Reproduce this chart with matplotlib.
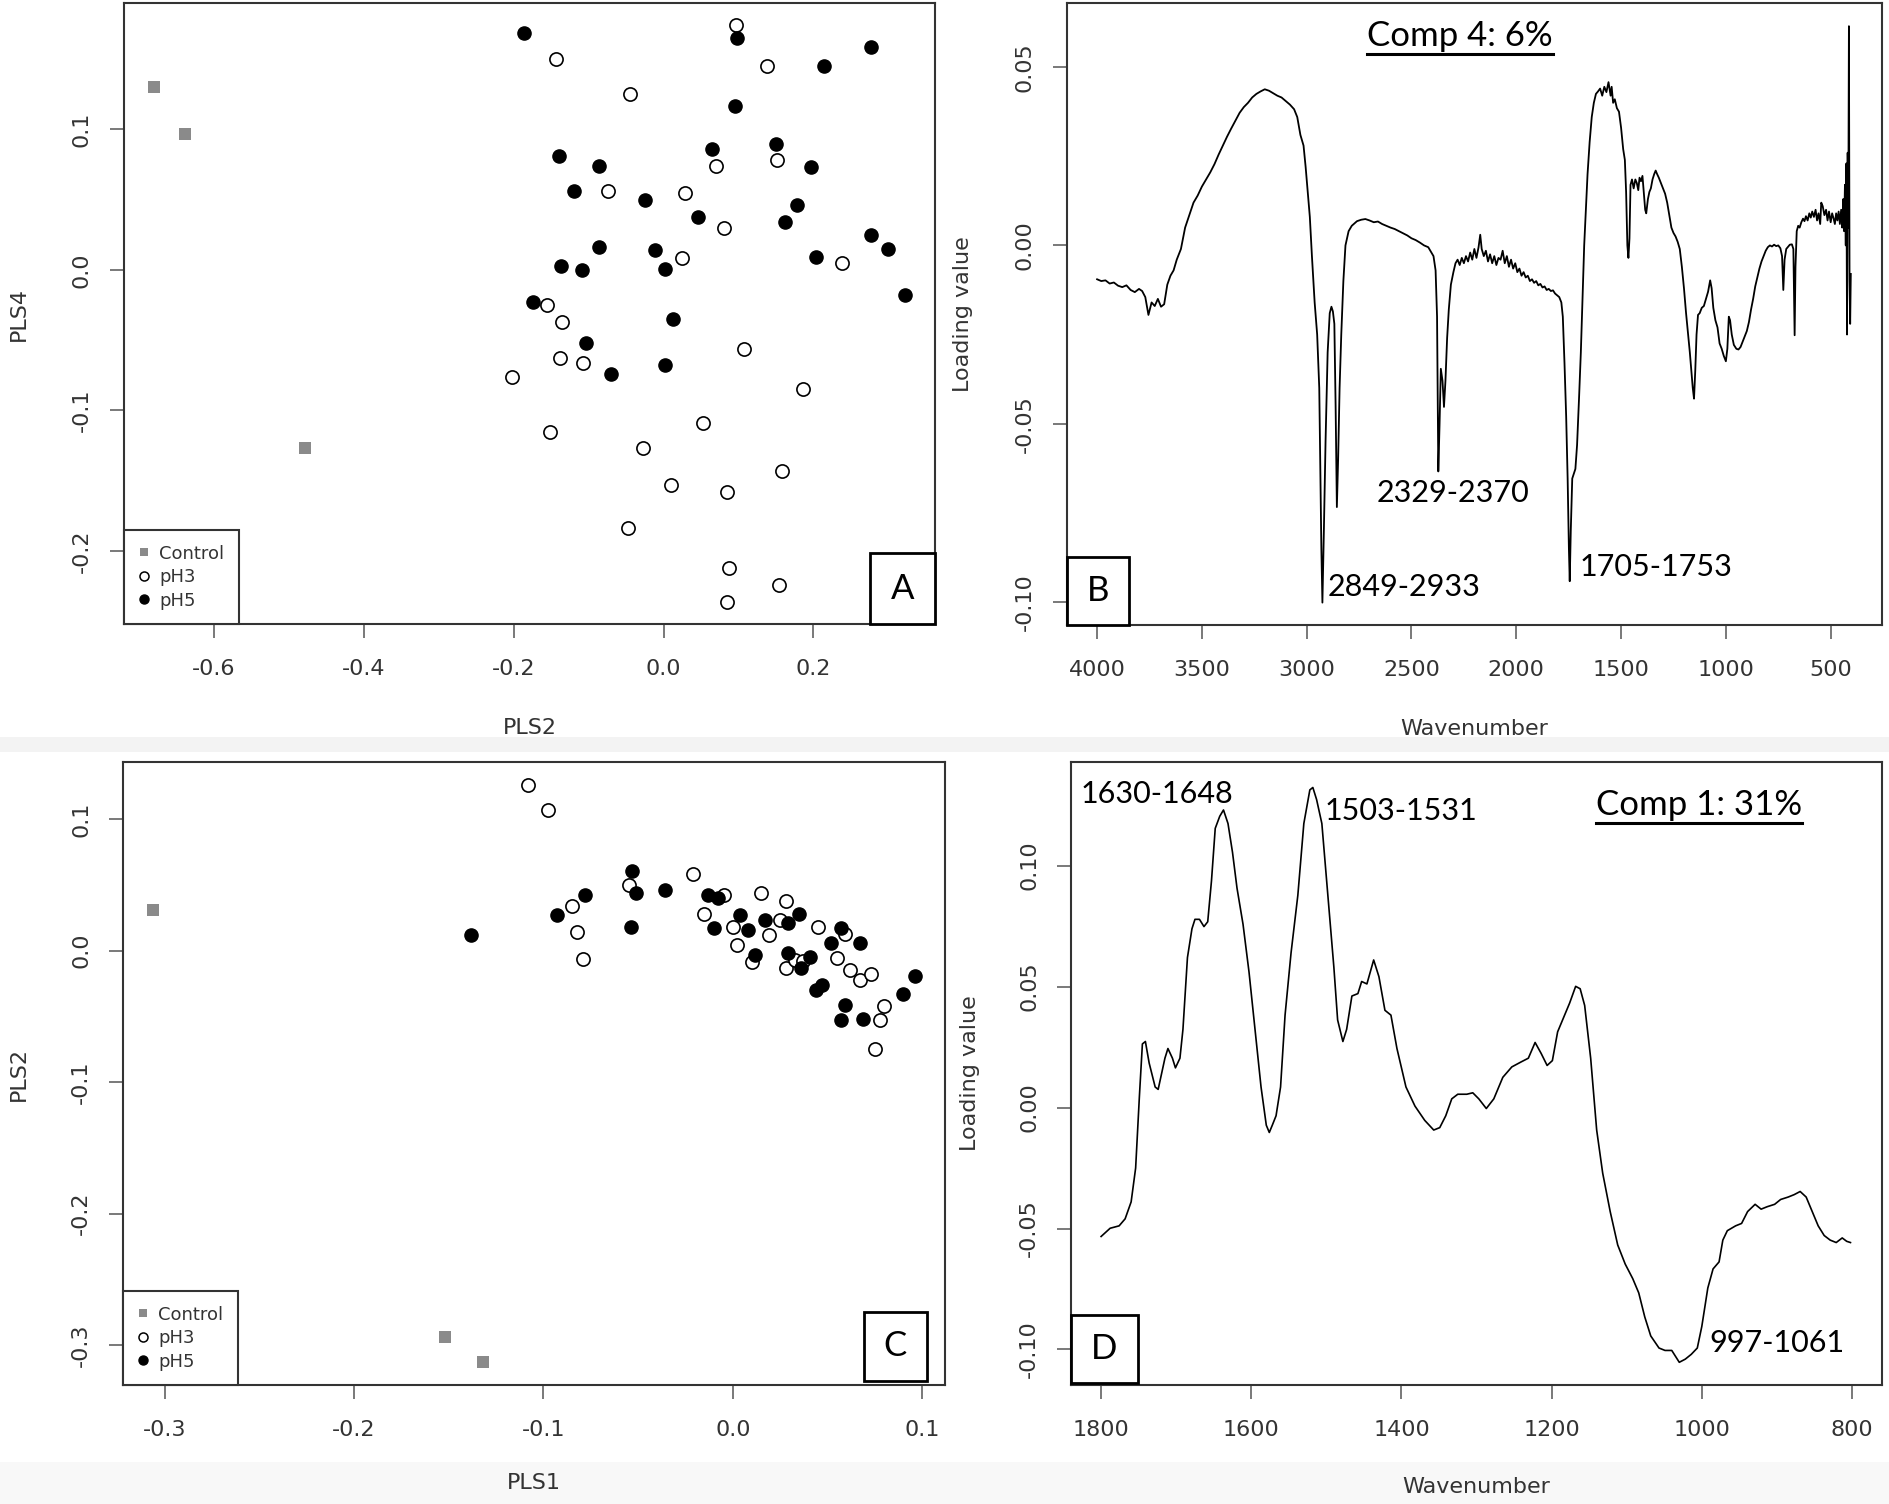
import matplotlib.pyplot as plt
import numpy as np
from matplotlib.patches import Rectangle
from matplotlib.lines import Line2D

# ---- panel A: PLS2 vs PLS4 scores ----
a_ctrl_x = [-0.680, -0.639, -0.479]
a_ctrl_y = [0.130, 0.097, -0.127]
a_ph3_x = [0.096, -0.143, 0.138, -0.045, 0.070, 0.151, -0.074, 0.028, 0.081, 0.024,
           0.238, -0.155, -0.135, 0.108, -0.138, -0.108, -0.202, 0.186, 0.053, -0.151,
           -0.027, 0.158, 0.010, 0.085, -0.048, 0.087, 0.154, 0.084]
a_ph3_y = [0.174, 0.150, 0.145, 0.125, 0.074, 0.078, 0.056, 0.055, 0.030, 0.0085,
           0.005, -0.025, -0.037, -0.056, -0.063, -0.066, -0.076, -0.085, -0.109, -0.115,
           -0.127, -0.143, -0.153, -0.158, -0.184, -0.212, -0.224, -0.236]
a_ph5_x = [-0.186, 0.098, 0.277, 0.214, 0.095, 0.150, -0.140, 0.064, -0.086, 0.197,
           -0.120, -0.025, 0.178, 0.046, 0.162, 0.277, 0.299, -0.086, -0.011, -0.137,
           -0.109, 0.002, 0.204, 0.322, -0.174, 0.013, -0.104, -0.070, 0.002]
a_ph5_y = [0.169, 0.165, 0.159, 0.145, 0.117, 0.090, 0.081, 0.086, 0.074, 0.073,
           0.056, 0.050, 0.046, 0.038, 0.034, 0.025, 0.015, 0.016, 0.014, 0.003,
           0.000, 0.001, 0.009, -0.018, -0.023, -0.035, -0.052, -0.074, -0.068]

# ---- panel C: PLS1 vs PLS2 scores ----
c_ctrl_x = [-0.306, -0.152, -0.132]
c_ctrl_y = [0.031, -0.294, -0.313]
c_ph3_x = [-0.108, -0.0975, -0.055, -0.085, -0.082, -0.079, -0.021, -0.015, -0.0045, 0.000,
           0.002, 0.010, 0.015, 0.019, 0.025, 0.028, 0.028, 0.033, 0.037, 0.045,
           0.055, 0.059, 0.062, 0.067, 0.073, 0.080, 0.078, 0.075]
c_ph3_y = [0.126, 0.107, 0.050, 0.034, 0.014, -0.0066, 0.058, 0.028, 0.042, 0.018,
           0.004, -0.0084, 0.044, 0.012, 0.023, 0.038, -0.013, -0.007, -0.008, 0.018,
           -0.0055, 0.013, -0.015, -0.022, -0.018, -0.042, -0.053, -0.075]
c_ph5_x = [-0.138, -0.093, -0.078, -0.053, -0.051, -0.054, -0.036, -0.013, -0.008, -0.010,
           0.004, 0.008, 0.012, 0.017, 0.029, 0.035, 0.029, 0.036, 0.041, 0.044,
           0.047, 0.052, 0.057, 0.059, 0.057, 0.067, 0.069, 0.090, 0.096]
c_ph5_y = [0.012, 0.027, 0.042, 0.061, 0.044, 0.018, 0.046, 0.042, 0.040, 0.017,
           0.027, 0.016, -0.003, 0.023, 0.021, 0.028, -0.002, -0.013, -0.005, -0.030,
           -0.026, 0.006, 0.017, -0.041, -0.053, 0.006, -0.052, -0.033, -0.019]

# ---- panel B: loadings comp 4 (full spectrum) ----
b_wn = [4000, 3980, 3960, 3940, 3920, 3900, 3880, 3860, 3840, 3820, 3800, 3785, 3770, 3755,
        3740, 3725, 3710, 3695, 3680, 3665, 3650, 3635, 3620, 3600, 3580, 3560, 3540, 3520,
        3500, 3480, 3460, 3440, 3420, 3400, 3380, 3360, 3340, 3320, 3300, 3280, 3260, 3240,
        3220, 3200, 3180, 3160, 3140, 3120, 3100, 3080, 3060, 3045, 3030, 3015, 3005, 2995,
        2985, 2975, 2962, 2950, 2940, 2930, 2925, 2918, 2910, 2900, 2890, 2882, 2875, 2868,
        2862, 2856, 2850, 2843, 2835, 2825, 2815, 2800, 2785, 2760, 2740, 2720, 2700, 2680,
        2660, 2640, 2620, 2600, 2580, 2560, 2540, 2520, 2500, 2480, 2460, 2440, 2420, 2405,
        2395, 2385, 2378, 2372, 2366, 2360, 2352, 2345, 2338, 2330, 2322, 2312, 2300, 2290,
        2280, 2270, 2260, 2250, 2240, 2230, 2220, 2210, 2200, 2190, 2180, 2172, 2165, 2155,
        2145, 2135, 2125, 2115, 2105, 2095, 2085, 2075, 2065, 2055, 2045, 2035, 2025, 2015,
        2005, 1995, 1985, 1975, 1965, 1955, 1945, 1935, 1925, 1915, 1905, 1895, 1885, 1875,
        1865, 1855, 1845, 1835, 1825, 1815, 1805, 1795, 1785, 1778, 1770, 1762, 1755, 1749,
        1745, 1740, 1733, 1725, 1718, 1710, 1700, 1692, 1684, 1676, 1668, 1660, 1650, 1640,
        1630, 1620, 1610, 1600, 1590, 1580, 1570, 1560, 1550, 1545, 1538, 1530, 1520, 1510,
        1500, 1490, 1482, 1476, 1470, 1465, 1460, 1455, 1448, 1440, 1432, 1425, 1418, 1412,
        1405, 1398, 1392, 1385, 1380, 1372, 1365, 1358, 1350, 1342, 1335, 1328, 1320, 1310,
        1300, 1290, 1280, 1270, 1260, 1250, 1240, 1230, 1220, 1210, 1200, 1190, 1180, 1172,
        1165, 1158, 1152, 1146, 1140, 1133, 1125, 1115, 1105, 1095, 1085, 1075, 1068, 1060,
        1050, 1040, 1030, 1020, 1010, 1000, 993, 986, 980, 972, 962, 950, 940, 930,
        920, 910, 900, 890, 880, 870, 860, 850, 840, 830, 820, 810, 800, 790,
        780, 770, 760, 750, 740, 732, 726, 720, 712, 705, 695, 685, 678, 672,
        668, 662, 655, 648, 640, 632, 625, 618, 610, 602, 595, 588, 580, 572,
        565, 558, 550, 545, 538, 530, 522, 515, 508, 500, 493, 486, 480, 474,
        468, 462, 456, 450, 445, 440, 436, 432, 428, 425, 422, 419, 416, 413,
        410, 407, 404]
b_val = [-0.0095, -0.0100, -0.0098, -0.0107, -0.0104, -0.0113, -0.0117, -0.0112, -0.0125, -0.0131,
         -0.0122, -0.0128, -0.0145, -0.0195, -0.0160, -0.0170, -0.0150, -0.0172, -0.0165, -0.0110,
         -0.0085, -0.0070, -0.0040, -0.0010, 0.0050, 0.0085, 0.0120, 0.0140, 0.0165, 0.0185,
         0.0205, 0.0228, 0.0255, 0.0280, 0.0305, 0.0328, 0.0350, 0.0372, 0.0388, 0.0400,
         0.0415, 0.0425, 0.0432, 0.0438, 0.0434, 0.0427, 0.0420, 0.0415, 0.0405, 0.0395,
         0.0382, 0.0360, 0.0310, 0.0280, 0.0220, 0.0150, 0.0080, -0.0030, -0.0160, -0.0250,
         -0.0400, -0.0850, -0.1002, -0.0800, -0.0550, -0.0300, -0.0190, -0.0172, -0.0185, -0.0220,
         -0.0450, -0.0734, -0.0600, -0.0400, -0.0250, -0.0100, 0.0000, 0.0040, 0.0055, 0.0068,
         0.0072, 0.0074, 0.0070, 0.0065, 0.0067, 0.0060, 0.0055, 0.0050, 0.0046, 0.0040,
         0.0034, 0.0028, 0.0020, 0.0015, 0.0008, 0.0000, -0.0005, -0.0020, -0.0030, -0.0070,
         -0.0200, -0.0634, -0.0500, -0.0346, -0.0380, -0.0453, -0.0380, -0.0260, -0.0180, -0.0110,
         -0.0075, -0.0050, -0.0040, -0.0055, -0.0035, -0.0050, -0.0030, -0.0045, -0.0020, -0.0040,
         -0.0010, -0.0035, -0.0005, 0.0030, -0.0010, -0.0030, -0.0015, -0.0045, -0.0025, -0.0050,
         -0.0030, -0.0055, -0.0035, -0.0040, -0.0015, -0.0050, -0.0030, -0.0060, -0.0040, -0.0065,
         -0.0050, -0.0075, -0.0065, -0.0085, -0.0075, -0.0090, -0.0085, -0.0100, -0.0095, -0.0105,
         -0.0100, -0.0112, -0.0108, -0.0118, -0.0115, -0.0125, -0.0122, -0.0128, -0.0126, -0.0135,
         -0.0140, -0.0145, -0.0160, -0.0200, -0.0330, -0.0480, -0.0654, -0.0850, -0.0942, -0.0800,
         -0.0654, -0.0640, -0.0627, -0.0560, -0.0420, -0.0300, -0.0150, 0.0000, 0.0100, 0.0200,
         0.0290, 0.0360, 0.0400, 0.0425, 0.0432, 0.0440, 0.0420, 0.0445, 0.0430, 0.0458,
         0.0420, 0.0445, 0.0400, 0.0410, 0.0385, 0.0375, 0.0330, 0.0270, 0.0240, 0.0150,
         0.0000, -0.0035, 0.0020, 0.0170, 0.0185, 0.0160, 0.0185, 0.0175, 0.0155, 0.0190,
         0.0180, 0.0195, 0.0150, 0.0100, 0.0090, 0.0130, 0.0150, 0.0160, 0.0185, 0.0200,
         0.0210, 0.0200, 0.0190, 0.0175, 0.0160, 0.0145, 0.0120, 0.0085, 0.0050, 0.0035,
         0.0025, 0.0010, -0.0010, -0.0060, -0.0120, -0.0190, -0.0250, -0.0300, -0.0350, -0.0400,
         -0.0430, -0.0350, -0.0250, -0.0195, -0.0190, -0.0175, -0.0170, -0.0150, -0.0130, -0.0098,
         -0.0120, -0.0175, -0.0210, -0.0230, -0.0275, -0.0290, -0.0310, -0.0325, -0.0290, -0.0200,
         -0.0210, -0.0250, -0.0279, -0.0290, -0.0292, -0.0285, -0.0270, -0.0255, -0.0240, -0.0215,
         -0.0180, -0.0150, -0.0115, -0.0090, -0.0065, -0.0045, -0.0030, -0.0015, -0.0005, 0.0000,
         -0.0003, 0.0002, -0.0002, 0.0000, -0.0008, -0.0030, -0.0125, -0.0040, -0.0010, -0.0005,
         0.0002, 0.0003, -0.0010, -0.0252, -0.0060, 0.0040, 0.0055, 0.0050, 0.0065, 0.0075,
         0.0068, 0.0082, 0.0070, 0.0090, 0.0078, 0.0095, 0.0080, 0.0100, 0.0070, 0.0090,
         0.0060, 0.0120, 0.0110, 0.0085, 0.0100, 0.0070, 0.0095, 0.0065, 0.0090, 0.0075,
         0.0060, 0.0090, 0.0070, 0.0095, 0.0060, 0.0100, 0.0050, 0.0130, 0.0040, 0.0170,
         0.0000, 0.0230, -0.0250, 0.0260, 0.0050, 0.0615, -0.0100, -0.0220, -0.0080]

# ---- panel D: loadings comp 1 (1800-800) ----
d_wn = [1800, 1788, 1776, 1768, 1760, 1754, 1749, 1745, 1741, 1736, 1728, 1724, 1715, 1711,
        1705, 1701, 1695, 1691, 1685, 1679, 1675, 1669, 1663, 1658, 1653, 1648, 1642, 1637,
        1631, 1625, 1619, 1611, 1603, 1595, 1587, 1580, 1576, 1572, 1567, 1561, 1555, 1547,
        1538, 1530, 1522, 1518, 1513, 1506, 1498, 1490, 1485, 1478, 1473, 1466, 1458, 1453,
        1446, 1437, 1430, 1422, 1414, 1406, 1394, 1382, 1369, 1357, 1349, 1341, 1333, 1325,
        1313, 1305, 1297, 1287, 1277, 1265, 1253, 1241, 1231, 1222, 1214, 1206, 1199, 1192,
        1184, 1176, 1168, 1162, 1156, 1148, 1140, 1132, 1122, 1112, 1102, 1092, 1084, 1076,
        1068, 1057, 1049, 1040, 1030, 1022, 1014, 1006, 1000, 992, 985, 977, 972, 966,
        955, 947, 939, 929, 921, 913, 903, 895, 885, 877, 869, 861, 853, 845,
        837, 829, 821, 813, 807, 802]
d_val = [-0.0533, -0.0499, -0.0489, -0.0460, -0.0390, -0.0250, 0.0046, 0.0263, 0.0273, 0.0184,
         0.0085, 0.0075, 0.0204, 0.0244, 0.0204, 0.0164, 0.0204, 0.0323, 0.0620, 0.0739,
         0.0778, 0.0778, 0.0748, 0.0768, 0.0937, 0.1154, 0.1204, 0.1230, 0.1174, 0.1055,
         0.0907, 0.0758, 0.0560, 0.0323, 0.0085, -0.0073, -0.0103, -0.0073, -0.0034, 0.0085,
         0.0382, 0.0640, 0.0877, 0.1174, 0.1313, 0.1323, 0.1273, 0.1174, 0.0877, 0.0580,
         0.0362, 0.0273, 0.0323, 0.0461, 0.0471, 0.0521, 0.0511, 0.0610, 0.0541, 0.0402,
         0.0382, 0.0244, 0.0085, 0.0006, -0.0053, -0.0093, -0.0083, -0.0034, 0.0036, 0.0055,
         0.0055, 0.0061, 0.0036, -0.0004, 0.0036, 0.0125, 0.0168, 0.0188, 0.0204, 0.0269,
         0.0224, 0.0174, 0.0194, 0.0313, 0.0372, 0.0432, 0.0501, 0.0491, 0.0422, 0.0204,
         -0.0093, -0.0271, -0.0430, -0.0568, -0.0647, -0.0707, -0.0766, -0.0865, -0.0944, -0.0994,
         -0.1004, -0.1004, -0.1053, -0.1040, -0.1020, -0.0994, -0.0905, -0.0746, -0.0667, -0.0638,
         -0.0548, -0.0509, -0.0489, -0.0479, -0.0430, -0.0400, -0.0420, -0.0410, -0.0400, -0.0380,
         -0.0370, -0.0360, -0.0347, -0.0370, -0.0430, -0.0489, -0.0529, -0.0548, -0.0558, -0.0539,
         -0.0553, -0.0558]

groups = ["Control", "pH3", "pH5"]

AX_FONT = "DejaVu Sans"
ANN_FONT = "Lato"
FRAME = "#333333"
GRAY = "#8a8a8a"

fig = plt.figure(figsize=(18.89, 15.04), dpi=100)
fig.patch.set_facecolor("white")
# faint bands left over from the composite image
fig.add_artist(Rectangle((0, 0.500), 1, 0.010, transform=fig.transFigure,
                         facecolor="#f3f3f3", edgecolor="none", zorder=0))
fig.add_artist(Rectangle((0, 0.0), 1, 0.028, transform=fig.transFigure,
                         facecolor="#f8f8f8", edgecolor="none", zorder=0))

axA = fig.add_axes([0.0656, 0.5851, 0.4293, 0.4129])
axB = fig.add_axes([0.5648, 0.5844, 0.4314, 0.4136])
axC = fig.add_axes([0.0651, 0.0791, 0.4351, 0.4142])
axD = fig.add_axes([0.5670, 0.0791, 0.4293, 0.4142])


def style(ax, xlabel, ylabel, xticks, xlabels, yticks, ylabels, xl_y, yl_x):
    for s in ax.spines.values():
        s.set_color(FRAME)
        s.set_linewidth(1.5)
    ax.set_xticks(xticks)
    ax.set_xticklabels(xlabels, fontsize=16, family=AX_FONT, color="#333333")
    ax.set_yticks(yticks)
    ax.set_yticklabels(ylabels, fontsize=16, family=AX_FONT, color="#333333",
                       rotation=90, va="center")
    ax.tick_params(axis="x", length=10, width=1.1, color="#555555", pad=15)
    ax.tick_params(axis="y", length=10, width=1.1, color="#555555", pad=13)
    ax.set_xlabel(xlabel, fontsize=16, family=AX_FONT, color="#333333")
    ax.set_ylabel(ylabel, fontsize=16, family=AX_FONT, color="#333333")
    ax.xaxis.set_label_coords(0.5, xl_y)
    ax.yaxis.set_label_coords(yl_x, 0.5)


def letter_box(ax, letter, x0, y0, w, h):
    ax.add_patch(Rectangle((x0, y0), w, h, transform=ax.transAxes, facecolor="white",
                           edgecolor="black", linewidth=2.0, zorder=10, clip_on=False))
    ax.text(x0 + w / 2, y0 + h / 2, letter, transform=ax.transAxes, ha="center", va="center",
            fontsize=25, family=ANN_FONT, zorder=11)


def scores(ax, cx, cy, p3x, p3y, p5x, p5y):
    ax.scatter(cx, cy, marker="s", s=70, color=GRAY, linewidths=0, zorder=3)
    ax.scatter(p3x, p3y, marker="o", s=90, facecolors="white", edgecolors="black",
               linewidths=1.2, zorder=3)
    ax.scatter(p5x, p5y, marker="o", s=90, color="black", zorder=3)
    handles = [Line2D([], [], ls="none", marker="s", ms=6, color=GRAY, mew=0),
               Line2D([], [], ls="none", marker="o", ms=6.5, mfc="white", mec="black", mew=1.1),
               Line2D([], [], ls="none", marker="o", ms=6.5, color="black")]
    leg = ax.legend(handles, groups, loc="lower left", bbox_to_anchor=(0, 0),
                    borderaxespad=0, fancybox=False, framealpha=1, edgecolor=FRAME,
                    prop={"family": AX_FONT, "size": 13}, handlelength=0.6,
                    handletextpad=0.55, labelspacing=0.3, borderpad=0.8)
    leg.get_frame().set_linewidth(1.5)
    for t in leg.get_texts():
        t.set_color("#333333")


# panel A
scores(axA, a_ctrl_x, a_ctrl_y, a_ph3_x, a_ph3_y, a_ph5_x, a_ph5_y)
axA.set_xlim(-0.72, 0.362)
axA.set_ylim(-0.252, 0.19)
style(axA, "PLS2", "PLS4", [-0.6, -0.4, -0.2, 0.0, 0.2], ["-0.6", "-0.4", "-0.2", "0.0", "0.2"],
      [-0.2, -0.1, 0.0, 0.1], ["-0.2", "-0.1", "0.0", "0.1"], -0.151, -0.117)
letter_box(axA, "A", 0.920, 0.0, 0.080, 0.114)

# panel C
scores(axC, c_ctrl_x, c_ctrl_y, c_ph3_x, c_ph3_y, c_ph5_x, c_ph5_y)
axC.set_xlim(-0.322, 0.112)
axC.set_ylim(-0.3305, 0.1435)
style(axC, "PLS1", "PLS2", [-0.3, -0.2, -0.1, 0.0, 0.1], ["-0.3", "-0.2", "-0.1", "0.0", "0.1"],
      [-0.3, -0.2, -0.1, 0.0, 0.1], ["-0.3", "-0.2", "-0.1", "0.0", "0.1"], -0.141, -0.114)
letter_box(axC, "C", 0.901, 0.006, 0.077, 0.112)

# panel B
axB.plot(b_wn, b_val, color="black", lw=1.3)
axB.set_xlim(4144, 256)
axB.set_ylim(-0.1065, 0.068)
style(axB, "Wavenumber", "Loading value", [4000, 3500, 3000, 2500, 2000, 1500, 1000, 500],
      ["4000", "3500", "3000", "2500", "2000", "1500", "1000", "500"],
      [-0.10, -0.05, 0.0, 0.05], ["-0.10", "-0.05", "0.00", "0.05"], -0.151, -0.115)
letter_box(axB, "B", 0.0, 0.0, 0.076, 0.109)
compB = axB.text(2269, 0.0559, "Comp 4: 6%", ha="center", va="baseline", fontsize=25,
                 family=ANN_FONT)
axB.text(2898, -0.0959, "2849-2933", ha="left", va="center", fontsize=22, family=ANN_FONT)
axB.text(2666, -0.0694, "2329-2370", ha="left", va="center", fontsize=22, family=ANN_FONT)
axB.text(1700, -0.0902, "1705-1753", ha="left", va="center", fontsize=22, family=ANN_FONT)

# panel D
axD.plot(d_wn, d_val, color="black", lw=1.2)
axD.set_xlim(1840, 760)
axD.set_ylim(-0.1147, 0.1428)
style(axD, "Wavenumber", "Loading value", [1800, 1600, 1400, 1200, 1000, 800],
      ["1800", "1600", "1400", "1200", "1000", "800"],
      [-0.10, -0.05, 0.0, 0.05, 0.10], ["-0.10", "-0.05", "0.00", "0.05", "0.10"],
      -0.147, -0.112)
letter_box(axD, "D", 0.0, 0.003, 0.082, 0.110)
compD = axD.text(1004, 0.1209, "Comp 1: 31%", ha="center", va="baseline", fontsize=25,
                 family=ANN_FONT)
axD.text(1828, 0.1297, "1630-1648", ha="left", va="center", fontsize=22, family=ANN_FONT)
axD.text(1502, 0.1224, "1503-1531", ha="left", va="center", fontsize=22, family=ANN_FONT)
axD.text(990, -0.0974, "997-1061", ha="left", va="center", fontsize=22, family=ANN_FONT)

# underline the component titles
fig.canvas.draw()
rend = fig.canvas.get_renderer()
for t in (compB, compD):
    bb = t.get_window_extent(rend).transformed(fig.transFigure.inverted())
    yl = bb.y0 - 1.5 / 1504
    fig.add_artist(Line2D([bb.x0, bb.x1], [yl, yl], color="black", lw=2.2,
                          transform=fig.transFigure))

fig.savefig("out.png", dpi=100)
